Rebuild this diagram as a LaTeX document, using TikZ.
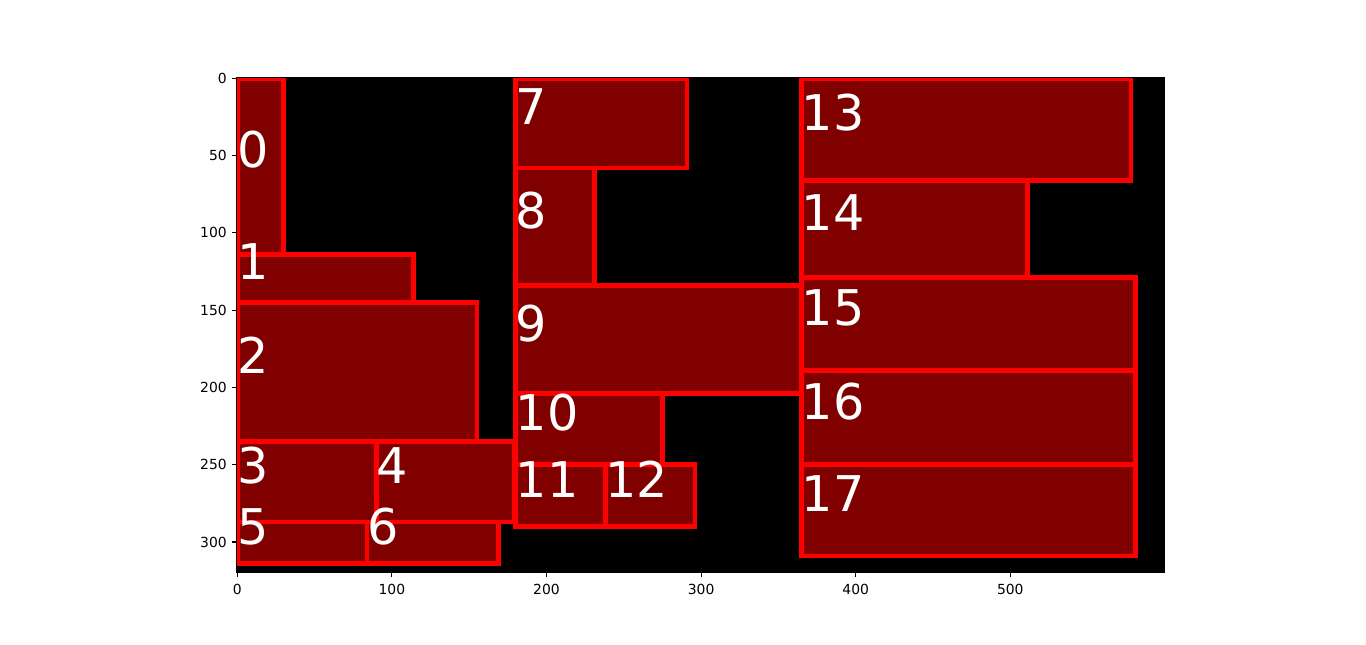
\documentclass[tikz,border=0pt]{standalone}
\usepackage{fontspec}
\setmainfont{DejaVu Sans}
\definecolor{cellred}{RGB}{128,0,0}
\definecolor{edgered}{RGB}{255,0,0}

\begin{document}
\begin{tikzpicture}[
  x=0.03092cm,y=-0.03092cm,
  cell/.style={fill=cellred, draw=edgered, line width=2.63pt},
  num/.style={anchor=base west, inner sep=0pt, text=white, font=\fontsize{28}{28}\selectfont},
  axisline/.style={line width=0.63pt, draw=black},
  ticklabel/.style={inner sep=0pt, font=\fontsize{7.9}{8}\selectfont}
]
\useasboundingbox (-153.5,-50.6) rectangle (730.1,366.6);
\fill[black] (-0.5,-0.5) rectangle (599.5,319.5);

\begin{scope}
\clip (-0.5,-0.5) rectangle (599.5,319.5);
\draw[cell] (0,0) rectangle (30,114);
\draw[cell] (0,114) rectangle (114,145);
\draw[cell] (0,145) rectangle (155,235);
\draw[cell] (0,235) rectangle (90,287);
\draw[cell] (90,235) rectangle (179,287);
\draw[cell] (0,287) rectangle (84,314);
\draw[cell] (84,287) rectangle (169,314);
\draw[cell] (180,0) rectangle (291,58);
\draw[cell] (180,58) rectangle (231,134);
\draw[cell] (180,134) rectangle (365,204);
\draw[cell] (180,204) rectangle (275,250);
\draw[cell] (180,250) rectangle (238,290);
\draw[cell] (238,250) rectangle (296,290);
\draw[cell] (365,0) rectangle (578,66);
\draw[cell] (365,66) rectangle (511,129);
\draw[cell] (365,129) rectangle (581,189);
\draw[cell] (365,189) rectangle (581,250);
\draw[cell] (365,250) rectangle (581,309);
\end{scope}

\node[num] (lbl0) at (0,58) {0};
\node[num] (lbl1) at (0,130.5) {1};
\node[num] (lbl2) at (0,191) {2};
\node[num] (lbl3) at (0,262) {3};
\node[num] (lbl4) at (90,262) {4};
\node[num] (lbl5) at (0,301.5) {5};
\node[num] (lbl6) at (84,301.5) {6};
\node[num] (lbl7) at (180,30) {7};
\node[num] (lbl8) at (180,97) {8};
\node[num] (lbl9) at (180,170) {9};
\node[num] (lbl10) at (180,228) {10};
\node[num] (lbl11) at (180,271) {11};
\node[num] (lbl12) at (238,271) {12};
\node[num] (lbl13) at (365,34) {13};
\node[num] (lbl14) at (365,98.5) {14};
\node[num] (lbl15) at (365,160) {15};
\node[num] (lbl16) at (365,220.5) {16};
\node[num] (lbl17) at (365,280.5) {17};

% frame and ticks
\draw[axisline] (-0.5,-0.5) rectangle (599.5,319.5);
\foreach \v in {0,50,...,300} {
  \draw[axisline] (-0.5,\v) -- (-3.64,\v);
  \node[ticklabel, anchor=east] (yt\v) at (-6.6,\v) {\v};
}
\foreach \v in {0,100,...,500} {
  \draw[axisline] (\v,319.5) -- (\v,322.64);
  \node[ticklabel, anchor=north] (xt\v) at (\v,327.2) {\v};
}
\end{tikzpicture}
\end{document}
